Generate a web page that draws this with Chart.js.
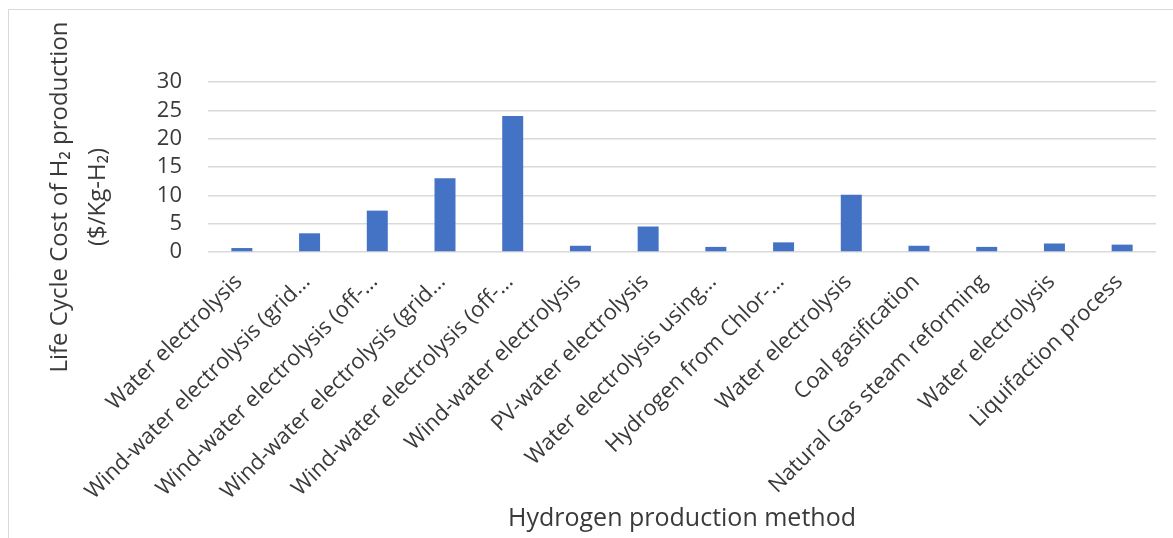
<!DOCTYPE html>
<html>
<head>
<meta charset="utf-8">
<script src="https://cdn.jsdelivr.net/npm/chart.js@4"></script>
<style>
  html, body { margin: 0; padding: 0; background: #fff; }
  #wrap { position: absolute; left: 0; top: 0; width: 1173px; height: 538px; }
</style>
</head>
<body>
<div id="wrap"><canvas id="chart"></canvas></div>
<script>
const methods = [
    'Water electrolysis',
    'Wind-water electrolysis (grid…',
    'Wind-water electrolysis (off-…',
    'Wind-water electrolysis (grid…',
    'Wind-water electrolysis (off-…',
    'Wind-water electrolysis',
    'PV-water electrolysis',
    'Water electrolysis using…',
    'Hydrogen from Chlor-…',
    'Water electrolysis',
    'Coal gasification',
    'Natural Gas steam reforming',
    'Water electrolysis',
    'Liquifaction process',
];

const costs = [0.7, 3.3, 7.3, 13.0, 24.0, 1.1, 4.5, 0.9, 1.7, 10.1, 1.1, 0.9, 1.5, 1.3];

const yTicks = [0, 5, 10, 15, 20, 25, 30];

const yTitleLines = ['Life Cycle Cost of H\u2082 production', '($/Kg-H\u2082)'];
const xTitle = 'Hydrogen production method';

const fontFamily = '"Open Sans", "Noto Sans", sans-serif';
const textColor = '#3a3a3a';
const gridColor = '#d9d9d9';

// outer frame + y title drawn by hand, centred like excel does it
const framePlugin = {
    id: 'frame',
    beforeDraw(chart) {
        const ctx = chart.ctx;
        ctx.save();
        ctx.strokeStyle = '#d9d9d9';
        ctx.lineWidth = 1;
        ctx.beginPath();
        ctx.moveTo(8.5, 538);
        ctx.lineTo(8.5, 9.5);
        ctx.lineTo(1173, 9.5);
        ctx.stroke();
        ctx.restore();
    },
    afterDraw(chart) {
        const ctx = chart.ctx;
        ctx.save();
        ctx.fillStyle = textColor;
        ctx.font = '24px ' + fontFamily;
        ctx.textAlign = 'center';
        ctx.textBaseline = 'middle';
        ctx.translate(0, 197);
        ctx.rotate(-Math.PI / 2);
        ctx.fillText(yTitleLines[0], 0, 60);
        ctx.fillText(yTitleLines[1], 0, 98);
        ctx.restore();
    }
};

const ctx = document.getElementById('chart').getContext('2d');

new Chart(ctx, {
    type: 'bar',
    data: {
        labels: methods,
        datasets: [
            {
                label: 'Life Cycle Cost',
                data: costs,
                backgroundColor: '#4472C4',
                borderColor: '#4472C4',
                borderWidth: 0,
                barPercentage: 0.31,
                categoryPercentage: 1.0,
            },
        ],
    },
    options: {
        responsive: true,
        maintainAspectRatio: false,
        animation: false,
        layout: {
            padding: { left: 0, right: 17, top: 82, bottom: 4 },
        },
        scales: {
            y: {
                min: 0,
                max: 30,
                afterBuildTicks: (scale) => {
                    scale.ticks = yTicks.map((v) => ({ value: v }));
                },
                afterFit: (scale) => {
                    scale.width = 208;
                },
                border: { display: false },
                grid: {
                    color: gridColor,
                    lineWidth: 1.5,
                    drawTicks: false,
                },
                ticks: {
                    autoSkip: false,
                    color: textColor,
                    padding: 26,
                    font: { family: fontFamily, size: 22, lineHeight: 1 },
                },
            },
            x: {
                afterFit: (scale) => {
                    scale.height = 282;
                },
                border: { display: false },
                grid: { display: false, drawTicks: false },
                ticks: {
                    autoSkip: false,
                    minRotation: 45,
                    maxRotation: 45,
                    padding: 17,
                    labelOffset: -3,
                    color: textColor,
                    font: { family: fontFamily, size: 22 },
                },
                title: {
                    display: true,
                    text: xTitle,
                    color: textColor,
                    font: { family: fontFamily, size: 25 },
                    padding: { top: 0, bottom: 0 },
                },
            },
        },
        plugins: {
            legend: { display: false },
            tooltip: { enabled: false },
        },
    },
    plugins: [framePlugin],
});
</script>
</body>
</html>
